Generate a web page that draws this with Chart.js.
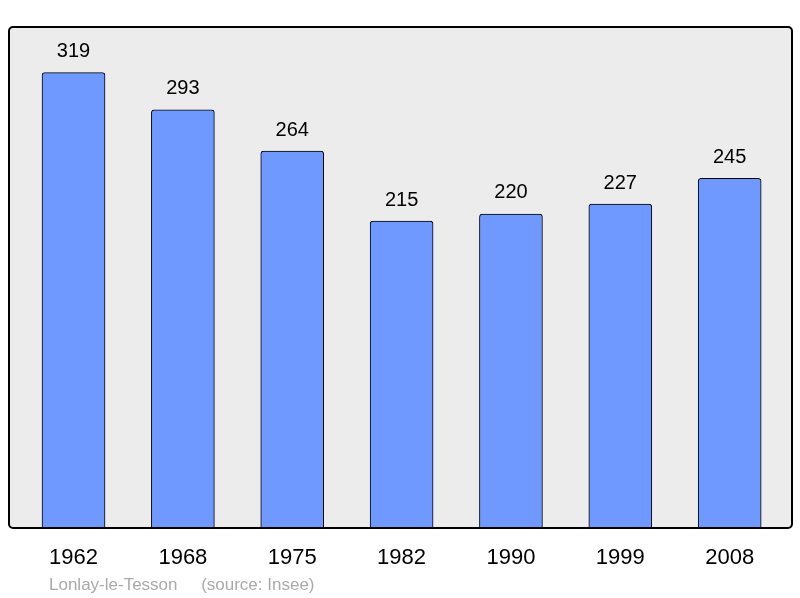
<!DOCTYPE html>
<html>
<head>
<meta charset="utf-8">
<script src="https://cdn.jsdelivr.net/npm/chart.js@4"></script>
<style>
  body { margin: 0; background: #fff; }
  #wrap { width: 800px; height: 598px; }
</style>
</head>
<body>
<div id="wrap"><canvas id="popChart" width="800" height="598"></canvas></div>
<script>
const years = ["1962", "1968", "1975", "1982", "1990", "1999", "2008"];
const population = [319, 293, 264, 215, 220, 227, 245];
const sourceText = "Lonlay-le-Tesson     (source: Insee)";

// grey panel + black rounded frame around the plot area
const framePlugin = {
  id: "frame",
  beforeDatasetsDraw(chart) {
    const { ctx, chartArea: a } = chart;
    ctx.save();
    ctx.beginPath();
    ctx.roundRect(a.left, a.top, a.right - a.left, a.bottom - a.top, 4);
    ctx.fillStyle = "#ececec";
    ctx.fill();
    ctx.restore();
  },
  afterDatasetsDraw(chart) {
    const { ctx, chartArea: a } = chart;
    ctx.save();
    ctx.beginPath();
    ctx.roundRect(a.left, a.top, a.right - a.left, a.bottom - a.top, 4);
    ctx.lineWidth = 2;
    ctx.strokeStyle = "#000";
    ctx.stroke();

    // value labels above the bars
    ctx.font = "20px 'Liberation Sans', Arial, sans-serif";
    ctx.fillStyle = "#000";
    ctx.textAlign = "center";
    ctx.textBaseline = "middle";
    chart.getDatasetMeta(0).data.forEach((bar, i) => {
      ctx.fillText(population[i], bar.x, bar.y - 21);
    });

    // source line
    ctx.font = "17px 'Liberation Sans', Arial, sans-serif";
    ctx.fillStyle = "#aaaaaa";
    ctx.textAlign = "left";
    ctx.fillText(sourceText, 49, 585);
    ctx.restore();
  }
};

new Chart(document.getElementById("popChart"), {
  type: "bar",
  data: {
    datasets: [{
      data: population.map((v, i) => ({ x: i, y: v })),
      backgroundColor: "#7099ff",
      borderColor: "#000",
      borderWidth: 1,
      borderRadius: { topLeft: 3, topRight: 3 },
      borderSkipped: "start",
      barThickness: 63
    }]
  },
  options: {
    responsive: false,
    animation: false,
    layout: { padding: { left: 9, right: 8, top: 27, bottom: 9.6 } },
    plugins: { legend: { display: false }, tooltip: { enabled: false } },
    scales: {
      x: {
        type: "linear",
        offset: false,
        min: -0.59,
        max: 6.57,
        grid: { display: false, drawTicks: false },
        border: { display: false },
        afterBuildTicks: (axis) => { axis.ticks = years.map((_, i) => ({ value: i })); },
        ticks: {
          autoSkip: false,
          maxRotation: 0,
          padding: 17,
          color: "#000",
          font: { family: "'Liberation Sans', Arial, sans-serif", size: 22 },
          callback: (v) => years[v]
        }
      },
      y: {
        display: false,
        min: 0,
        max: 351
      }
    }
  },
  plugins: [framePlugin]
});
</script>
</body>
</html>
